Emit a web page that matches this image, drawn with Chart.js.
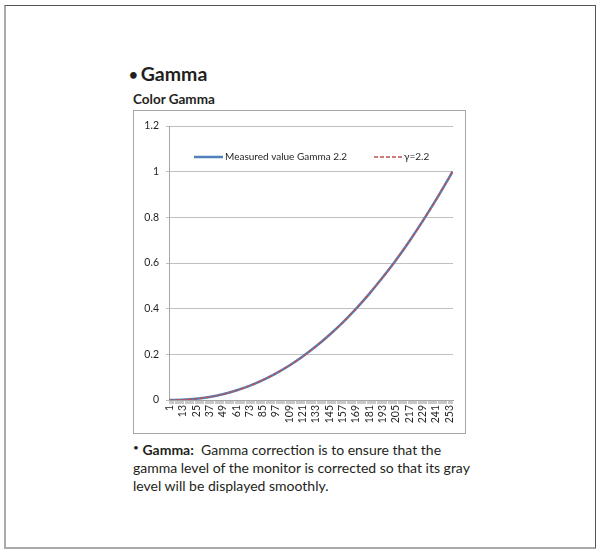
<!DOCTYPE html>
<html>
<head>
<meta charset="utf-8">
<script src="https://cdn.jsdelivr.net/npm/chart.js@4.4.1/dist/chart.umd.min.js"></script>
<style>
  body { margin: 0; background: #fff; font-family: Lato, "Open Sans", sans-serif; color: #231f20; }
  #frame { position: absolute; left: 4px; top: 5px; width: 589px; height: 541px;
    border-top: 1px solid #555; border-right: 1px solid #555;
    border-left: 2px solid #aaa; border-bottom: 2px solid #aaa; }
  #title { position: absolute; left: 129px; top: 62px; font-size: 19.5px; font-weight: bold; }
  #title .dot { font-size: 15px; vertical-align: 1px; margin-right: 3px; }
  #sub { position: absolute; left: 133px; top: 91px; font-size: 13.5px; font-weight: bold; }
  #box { position: absolute; left: 133px; top: 110px; width: 331px; height: 322px; border: 1px solid #a6a6a6; }
  #box canvas { position: absolute; left: 0; top: 0; }
  #desc { position: absolute; left: 133px; top: 438px; width: 340px; font-size: 14px; line-height: 18px; }
</style>
</head>
<body>
<div id="frame"></div>
<div id="title"><span class="dot">&bull;</span>Gamma</div>
<div id="sub">Color Gamma</div>
<div id="box"><canvas id="chart" width="331" height="322"></canvas></div>
<div id="desc"><span style="font-size:10px;vertical-align:4px">&bull;</span> <b>Gamma:</b>&nbsp; Gamma correction is to ensure that the gamma level of the monitor is corrected so that its gray level will be displayed smoothly.</div>
<script>
const grayLevels = [1, 13, 25, 37, 49, 61, 73, 85, 97, 109, 121, 133, 145, 157, 169, 181, 193, 205, 217, 229, 241, 253, 256];
const measured = [0, 0.0013, 0.0056, 0.0135, 0.0254, 0.0416, 0.062, 0.087, 0.1166, 0.151, 0.1906, 0.235, 0.2846, 0.339, 0.3992, 0.4648, 0.5362, 0.612, 0.6942, 0.782, 0.875, 0.974, 1];
const gamma22 = [0, 0.0012, 0.0055, 0.0134, 0.0253, 0.0414, 0.0619, 0.0868, 0.1165, 0.151, 0.1905, 0.2349, 0.2845, 0.339, 0.399, 0.465, 0.536, 0.612, 0.694, 0.782, 0.875, 0.974, 1];
const xLabels = [1, 13, 25, 37, 49, 61, 73, 85, 97, 109, 121, 133, 145, 157, 169, 181, 193, 205, 217, 229, 241, 253];
const yTicks = [0, 0.2, 0.4, 0.6, 0.8, 1, 1.2];
const seriesNames = ["Measured value Gamma 2.2", "\u03b3=2.2"];

const FONT = "Lato, 'Open Sans', sans-serif";
const BLUE = '#4f81bd';
const RED = '#c0504d';

// rotated x labels (reading bottom to top) and the in-plot legend
const extras = {
  id: 'extras',
  afterDraw(chart) {
    const c = chart.ctx;
    const xs = chart.scales.x;
    const area = chart.chartArea;
    c.save();
    c.fillStyle = '#231f20';
    c.font = '10.5px ' + FONT;
    c.textAlign = 'right';
    c.textBaseline = 'middle';
    xLabels.forEach(v => {
      const px = xs.getPixelForValue(v);
      c.save();
      c.translate(px, area.bottom + 5);
      c.rotate(-Math.PI / 2);
      c.fillText(String(v), 0, 0);
      c.restore();
    });

    // legend
    const ly = area.top + 31;
    c.textAlign = 'left';
    c.font = '10px ' + FONT;
    c.lineWidth = 2.5;
    c.strokeStyle = BLUE;
    c.beginPath(); c.moveTo(area.left + 25, ly); c.lineTo(area.left + 54, ly); c.stroke();
    c.fillText(seriesNames[0], area.left + 56, ly);
    c.lineWidth = 1.5;
    c.strokeStyle = RED;
    c.setLineDash([4, 2]);
    c.beginPath(); c.moveTo(area.left + 205, ly); c.lineTo(area.left + 233, ly); c.stroke();
    c.setLineDash([]);
    c.fillText(seriesNames[1], area.left + 235, ly);
    c.restore();
  }
};

new Chart(document.getElementById('chart'), {
  type: 'line',
  data: {
    datasets: [{
      label: seriesNames[0],
      data: grayLevels.map((g, i) => ({ x: g, y: measured[i] })),
      borderColor: BLUE,
      borderWidth: 2.5,
      pointRadius: 0,
      tension: 0.3,
      order: 2
    }, {
      label: seriesNames[1],
      data: grayLevels.map((g, i) => ({ x: g, y: gamma22[i] })),
      borderColor: RED,
      borderWidth: 1.5,
      borderDash: [4, 2],
      pointRadius: 0,
      tension: 0.3,
      order: 1
    }]
  },
  options: {
    responsive: false,
    animation: false,
    layout: { padding: { left: 0, top: 15, right: 12, bottom: 0 } },
    plugins: { legend: { display: false }, tooltip: { enabled: false } },
    scales: {
      x: {
        type: 'linear',
        min: 0.5,
        max: 256.5,
        afterBuildTicks(scale) {
          const t = [];
          for (let v = 1; v <= 256; v++) t.push({ value: v });
          scale.ticks = t;
        },
        afterFit(scale) { scale.height = 33; },
        ticks: { autoSkip: false, display: true, callback: () => '', maxRotation: 0 },
        grid: { drawOnChartArea: false, drawTicks: true, tickLength: 4, color: '#c8c8c8', lineWidth: 1 },
        border: { color: '#a6a6a6' }
      },
      y: {
        min: 0,
        max: 1.2,
        afterBuildTicks(scale) { scale.ticks = yTicks.map(v => ({ value: v })); },
        afterFit(scale) { scale.width = 35; },
        ticks: {
          padding: 7,
          color: '#231f20',
          font: { family: FONT, size: 10.5 },
          callback: v => String(Math.round(v * 10) / 10)
        },
        grid: { color: '#bfbfbf', tickLength: 3, lineWidth: 1 },
        border: { color: '#a6a6a6' }
      }
    }
  },
  plugins: [extras]
});
</script>
</body>
</html>
